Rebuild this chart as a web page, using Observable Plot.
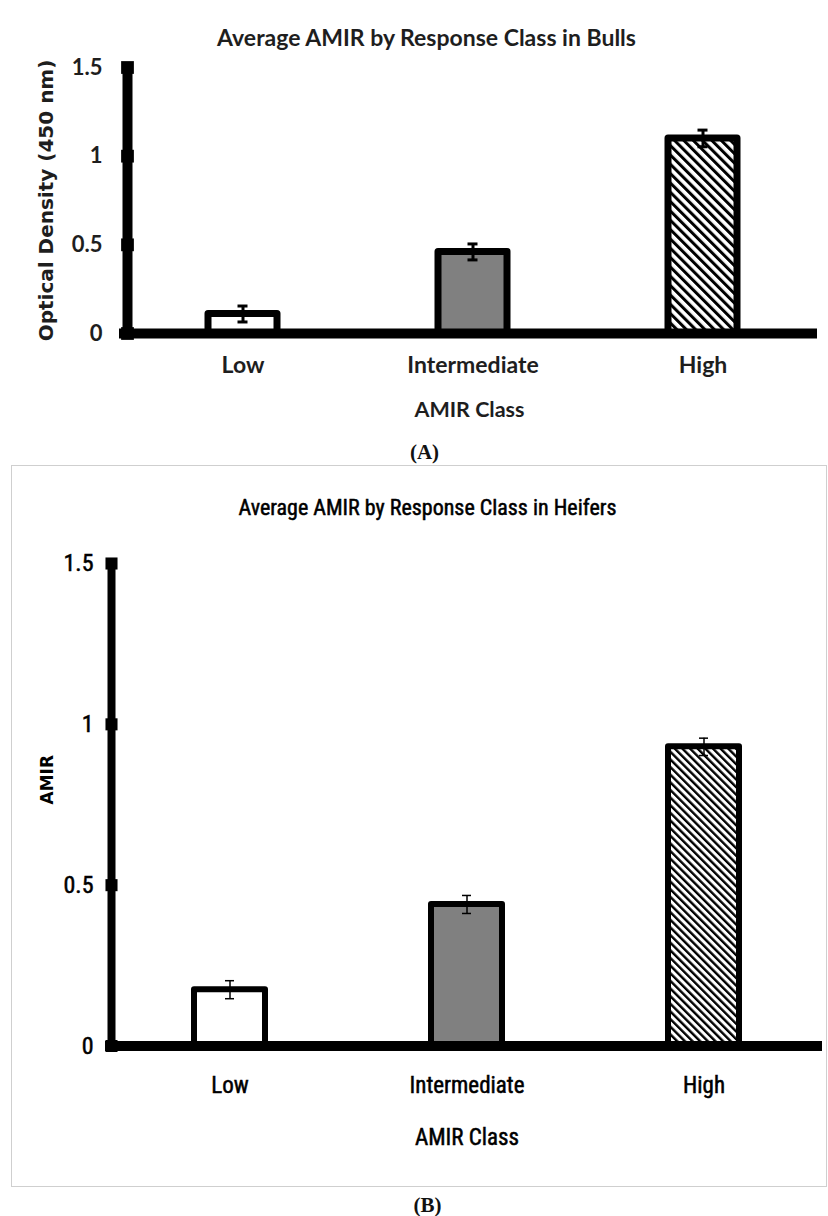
<!DOCTYPE html>
<html>
<head>
<meta charset="utf-8">
<script src="https://cdn.jsdelivr.net/npm/d3@7"></script>
<script src="https://cdn.jsdelivr.net/npm/@observablehq/plot@0.6"></script>
<style>
  html, body { margin: 0; padding: 0; background: #fff; }
  #page { position: relative; width: 828px; height: 1216px; overflow: hidden; background: #fff; }
  #a { position: absolute; left: 0; top: 0; }
  #box { position: absolute; left: 11px; top: 465px; width: 814px; height: 720px; border: 1px solid #cfcfcf; }
  #b { position: absolute; left: 0; top: 465px; }
  svg { overflow: visible; }
  #b g[aria-label$="tick label"] { stroke: black; stroke-width: 0.5px; }
</style>
</head>
<body>
<div id="page">
  <div id="a"></div>
  <div id="box"></div>
  <div id="b"></div>
</div>
<script>
// ---- data ----
const classes = ["Low", "Intermediate", "High"];
const bullsMean = [0.11, 0.46, 1.10];
const bullsErr = [0.045, 0.045, 0.047];
const heifersMean = [0.175, 0.44, 0.93];
const heifersErr = [0.028, 0.028, 0.027];
const yTicks = [0, 0.5, 1, 1.5];
const yTickLabels = ["0", "0.5", "1", "1.5"];
const titleA = "Average AMIR by Response Class in Bulls";
const titleB = "Average AMIR by Response Class in Heifers";
const yLabelA = "Optical Density (450 nm)";
const yLabelB = "AMIR";
const xLabel = "AMIR Class";
const panelA = "(A)";
const panelB = "(B)";

const bulls = classes.map((c, i) => ({cls: c, mean: bullsMean[i], err: bullsErr[i]}));
const heifers = classes.map((c, i) => ({cls: c, mean: heifersMean[i], err: heifersErr[i]}));

const fontA = "Lato, 'Open Sans', sans-serif";
const fontB = "'Liberation Sans Narrow', 'Roboto Condensed', Lato, sans-serif";
const fontY = "'DejaVu Sans', Verdana, sans-serif";
const fontSerif = "'Liberation Serif', 'DejaVu Serif', serif";

function addHatch(svg, id, period, thick) {
  const defs = d3.select(svg).insert("defs", ":first-child");
  const p = defs.append("pattern")
    .attr("id", id)
    .attr("patternUnits", "userSpaceOnUse")
    .attr("width", period).attr("height", 20)
    .attr("patternTransform", "rotate(-45)");
  p.append("rect").attr("width", period).attr("height", 20).attr("fill", "white");
  p.append("rect").attr("width", thick).attr("height", 20).attr("fill", "black");
}

const tickLabel = d => yTickLabels[yTicks.indexOf(d)];

// ---- Panel A ----
const chartA = Plot.plot({
  width: 828, height: 465,
  marginTop: 67, marginBottom: 132, marginLeft: 127, marginRight: 11,
  style: {background: "transparent", color: "#1e1e1e"},
  x: {domain: classes, paddingInner: 0.7, paddingOuter: 0.35, axis: null},
  y: {domain: [0, 1.5], axis: null},
  color: {domain: classes, range: ["white", "#808080", "url(#hatchA)"]},
  marks: [
    Plot.barY(bulls, {x: "cls", y: "mean", fill: "cls", stroke: "black", strokeWidth: 7, strokeLinejoin: "round"}),
    Plot.ruleX(bulls, {x: "cls", y1: d => d.mean - d.err, y2: d => d.mean + d.err, stroke: "black", strokeWidth: 3}),
    Plot.tickY(bulls, {x: "cls", y: d => d.mean + d.err, stroke: "black", strokeWidth: 3, inset: 29.5}),
    Plot.tickY(bulls, {x: "cls", y: d => d.mean - d.err, stroke: "black", strokeWidth: 3, inset: 29.5}),
    Plot.ruleY([0], {stroke: "black", strokeWidth: 10, insetLeft: -8}),
    Plot.frame({anchor: "left", stroke: "black", strokeWidth: 10}),
    Plot.dot(yTicks, {y: d => d, frameAnchor: "left", symbol: "square", r: 7.2, fill: "black"}),
    Plot.axisY(yTicks, {tickSize: 0, tickPadding: 25, tickFormat: tickLabel, label: null,
      fontFamily: fontA, fontSize: 22, fontWeight: "bold"}),
    Plot.axisX({tickSize: 0, tickPadding: 23, label: null,
      fontFamily: fontA, fontSize: 23, fontWeight: "bold"}),
    Plot.text([titleA], {frameAnchor: "top", dx: -46, dy: -29, lineAnchor: "middle",
      fontFamily: fontA, fontSize: 23, fontWeight: "bold"}),
    Plot.text([yLabelA], {frameAnchor: "left", dx: -81, dy: 0, rotate: -90, lineAnchor: "middle", textAnchor: "middle",
      fontFamily: fontY, fontSize: 20, fontWeight: "bold"}),
    Plot.text([xLabel], {frameAnchor: "bottom", dx: -3, dy: 77, lineAnchor: "middle",
      fontFamily: fontA, fontSize: 21.5, fontWeight: "bold"}),
    Plot.text([panelA], {frameAnchor: "bottom", dx: -48, dy: 119, lineAnchor: "middle",
      fontFamily: fontSerif, fontSize: 21, fontWeight: "bold", fill: "#111"})
  ]
});
addHatch(chartA, "hatchA", 6.6, 3);
document.getElementById("a").appendChild(chartA);

// ---- Panel B ----
const chartB = Plot.plot({
  width: 828, height: 751,
  marginTop: 98, marginBottom: 170.5, marginLeft: 111, marginRight: 6,
  style: {background: "transparent", color: "black"},
  x: {domain: classes, paddingInner: 0.7, paddingOuter: 0.35, axis: null},
  y: {domain: [0, 1.5], axis: null},
  color: {domain: classes, range: ["white", "#808080", "url(#hatchB)"]},
  marks: [
    Plot.barY(heifers, {x: "cls", y: "mean", fill: "cls", stroke: "black", strokeWidth: 6, strokeLinejoin: "round"}),
    Plot.ruleX(heifers, {x: "cls", y1: d => d.mean - d.err, y2: d => d.mean + d.err, stroke: "black", strokeWidth: 1.5}),
    Plot.tickY(heifers, {x: "cls", y: d => d.mean + d.err, stroke: "black", strokeWidth: 1.5, inset: 31}),
    Plot.tickY(heifers, {x: "cls", y: d => d.mean - d.err, stroke: "black", strokeWidth: 1.5, inset: 31}),
    Plot.ruleY([0], {stroke: "black", strokeWidth: 10, insetLeft: -6}),
    Plot.frame({anchor: "left", stroke: "black", strokeWidth: 8}),
    Plot.dot(yTicks, {y: d => d, frameAnchor: "left", symbol: "square", r: 6.8, fill: "black"}),
    Plot.axisY(yTicks, {tickSize: 0, tickPadding: 18, tickFormat: tickLabel, label: null,
      fontFamily: fontB, fontSize: 24}),
    Plot.axisX({tickSize: 0, tickPadding: 31, label: null,
      fontFamily: fontB, fontSize: 23}),
    Plot.text([titleB], {frameAnchor: "top", dx: -39.5, dy: -56, lineAnchor: "middle",
      fontFamily: fontB, fontSize: 22}),
    Plot.text([yLabelB], {frameAnchor: "left", dx: -64, dy: -25, rotate: -90, lineAnchor: "middle", textAnchor: "middle",
      fontFamily: fontY, fontSize: 17, fontWeight: "bold"}),
    Plot.text([xLabel], {frameAnchor: "bottom", dx: 0, dy: 91.5, lineAnchor: "middle",
      fontFamily: fontB, fontSize: 23}),
    Plot.text([panelB], {frameAnchor: "bottom", dx: -39.5, dy: 159.5, lineAnchor: "middle",
      fontFamily: fontSerif, fontSize: 21, fontWeight: "bold", fill: "#111"})
  ]
});
addHatch(chartB, "hatchB", 5.4, 2.4);
d3.select(chartB).selectAll("text")
  .filter(function() { return this.textContent === titleB || this.textContent === xLabel; })
  .style("stroke", "black").style("stroke-width", "0.5px");
document.getElementById("b").appendChild(chartB);
</script>
</body>
</html>
